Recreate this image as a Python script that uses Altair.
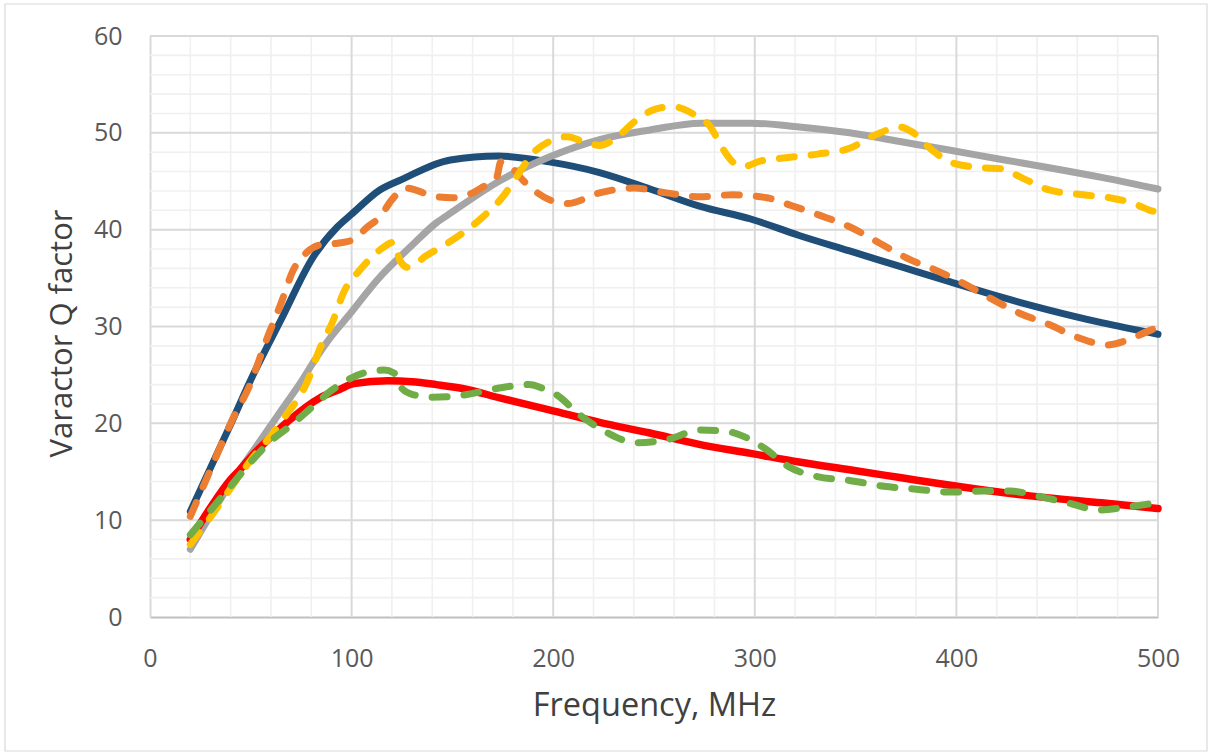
import altair as alt
import pandas as pd

# ---- data (Frequency MHz, Q factor) ----
blue_f = [20, 30, 40, 50, 65, 81, 93, 100, 114, 125, 149, 173, 198, 223, 248, 273, 298, 322, 347, 372, 397, 421, 446, 472, 500]
blue_q = [10.9, 15.4, 19.9, 24.5, 30.7, 37.2, 40.3, 41.6, 44.1, 45.2, 47.2, 47.6, 47.0, 45.9, 44.2, 42.4, 41.1, 39.4, 37.8, 36.2, 34.6, 33.1, 31.7, 30.4, 29.2]

orange_f = [20, 30, 40, 50, 57, 65, 71, 78, 84, 93, 100, 108, 114, 120, 127, 142, 150, 160, 165, 172, 174, 179, 185, 198, 207, 223, 240, 256, 273, 289, 306, 318, 332, 347, 362, 377, 390, 403, 417, 431, 446, 461, 475, 485, 496, 500]
orange_q = [10.4, 15.2, 20.0, 24.2, 28.2, 32.4, 35.8, 37.7, 38.4, 38.6, 38.9, 40.3, 41.3, 43.1, 44.3, 43.4, 43.3, 43.8, 44.4, 45.4, 47.0, 46.5, 45.1, 43.1, 42.7, 43.8, 44.3, 43.8, 43.4, 43.6, 43.3, 42.5, 41.5, 40.3, 38.6, 36.9, 35.8, 34.5, 32.9, 31.4, 30.2, 28.8, 28.1, 28.6, 29.6, 29.9]

gray_f = [20, 30, 40, 50, 60, 66, 75, 81, 90, 98, 114, 124, 131, 142, 149, 174, 198, 223, 248, 273, 298, 322, 347, 372, 397, 421, 446, 472, 500]
gray_q = [7.0, 10.5, 13.8, 16.8, 19.8, 21.6, 24.3, 26.3, 29.0, 31.0, 35.1, 37.2, 38.6, 40.7, 41.7, 45.1, 47.5, 49.3, 50.3, 51.0, 51.0, 50.6, 50.0, 49.1, 48.2, 47.3, 46.4, 45.4, 44.2]

yellow_f = [20, 30, 40, 50, 61, 68, 73, 78, 84, 91, 96, 104, 114, 121, 124, 128, 137, 152, 165, 175, 182, 190, 198, 207, 215, 223, 232, 240, 250, 259, 269, 278, 284, 289, 294, 303, 314, 331, 347, 360, 372, 378, 388, 398, 413, 422, 433, 446, 463, 476, 488, 496, 500]
yellow_q = [7.5, 10.3, 13.3, 16.2, 19.0, 21.0, 22.4, 24.3, 27.6, 30.7, 33.5, 35.8, 37.9, 38.7, 36.8, 36.1, 37.3, 39.2, 41.3, 43.4, 45.5, 47.9, 49.1, 49.6, 49.1, 48.7, 49.6, 51.1, 52.4, 52.7, 52.0, 50.6, 48.4, 47.0, 46.5, 47.1, 47.4, 47.8, 48.4, 49.8, 50.6, 50.1, 48.2, 46.9, 46.4, 46.3, 45.3, 44.1, 43.6, 43.3, 42.7, 42.0, 41.8]

red_f = [20, 30, 40, 45, 50, 60, 69, 84, 94, 101, 118, 130, 142, 155, 174, 198, 223, 248, 273, 298, 322, 347, 372, 397, 421, 446, 472, 500]
red_q = [8.0, 11.3, 14.2, 15.3, 16.5, 18.6, 20.3, 22.6, 23.5, 24.1, 24.4, 24.3, 24.0, 23.6, 22.6, 21.4, 20.1, 19.0, 17.8, 16.9, 16.0, 15.2, 14.4, 13.6, 12.9, 12.3, 11.8, 11.2]

green_f = [20, 30, 40, 50, 60, 70, 80, 90, 100, 108, 116, 121, 125, 130, 140, 155, 172, 188, 195, 202, 213, 227, 241, 256, 273, 285, 295, 305, 317, 331, 347, 364, 380, 397, 413, 427, 440, 455, 471, 486, 500]
green_q = [8.5, 11.0, 13.5, 16.0, 18.2, 19.8, 21.6, 23.4, 24.7, 25.3, 25.5, 25.2, 23.6, 23.0, 22.7, 22.9, 23.6, 24.0, 23.6, 22.9, 20.9, 19.0, 18.0, 18.3, 19.3, 19.2, 18.6, 17.4, 15.5, 14.5, 14.1, 13.5, 13.2, 12.9, 13.0, 13.0, 12.5, 11.8, 11.05, 11.4, 11.8]

x_ticks = [0, 100, 200, 300, 400, 500]
y_ticks = [0, 10, 20, 30, 40, 50, 60]
x_minor = [v for v in range(20, 500, 20) if v % 100 != 0]
y_minor = [v for v in range(2, 60, 2) if v % 10 != 0]
x_major = [100, 200, 300, 400, 500]
y_major = [10, 20, 30, 40, 50, 60]

FONT = "Open Sans"

X = alt.X("f:Q", scale=alt.Scale(domain=[0, 500], nice=False),
          axis=alt.Axis(values=x_ticks, grid=False, ticks=False, tickSize=0,
                        domainColor="#BFBFBF", domainWidth=2,
                        labelFont=FONT, labelFontSize=25, labelColor="#595959",
                        labelPadding=29, labelFlush=False, labelOverlap=False,
                        title="Frequency, MHz", titleFont=FONT, titleFontSize=32.5,
                        titleFontWeight="normal", titleColor="#404040",
                        titleX=504, titleY=88, titleAlign="center", titleBaseline="middle"))
Y = alt.Y("q:Q", scale=alt.Scale(domain=[0, 60], nice=False),
          axis=alt.Axis(values=y_ticks, grid=False, ticks=False, tickSize=0,
                        domainColor="#D9D9D9", domainWidth=2,
                        labelFont=FONT, labelFontSize=25, labelColor="#595959",
                        labelPadding=28, labelOverlap=False,
                        title="Varactor Q factor", titleFont=FONT, titleFontSize=31,
                        titleFontWeight="normal", titleColor="#404040",
                        titleX=-88, titleY=297, titleAngle=270,
                        titleAlign="center", titleBaseline="middle"))

layers = []

# outer chart border
border = alt.Chart(pd.DataFrame({"a": [0]})).mark_rect(
    fillOpacity=0, stroke="#D9D9D9", strokeWidth=1.2
).encode(x=alt.value(-145), x2=alt.value(1057), y=alt.value(-32), y2=alt.value(715))
layers.append(border)

# grid
layers.append(alt.Chart(pd.DataFrame({"f": x_minor})).mark_rule(color="#F0F0F0", strokeWidth=1.6).encode(x=X))
layers.append(alt.Chart(pd.DataFrame({"q": y_minor})).mark_rule(color="#F0F0F0", strokeWidth=1.6).encode(y=Y))
layers.append(alt.Chart(pd.DataFrame({"f": x_major})).mark_rule(color="#D9D9D9", strokeWidth=2).encode(x=X))
layers.append(alt.Chart(pd.DataFrame({"q": y_major})).mark_rule(color="#D9D9D9", strokeWidth=2).encode(y=Y))

series = [
    (blue_f, blue_q, "#1F4E79", False, 7),
    (gray_f, gray_q, "#A5A5A5", False, 7),
    (red_f, red_q, "#FF0000", False, 7.5),
    (orange_f, orange_q, "#ED7D31", True, 7),
    (yellow_f, yellow_q, "#FFC000", True, 7),
    (green_f, green_q, "#70AD47", True, 7),
]
for fs, qs, col, dashed, w in series:
    df = pd.DataFrame({"f": fs, "q": qs})
    if dashed:
        m = alt.Chart(df).mark_line(color=col, strokeWidth=w, strokeDash=[15, 17],
                                    strokeCap="round", strokeJoin="round", interpolate="monotone")
    else:
        m = alt.Chart(df).mark_line(color=col, strokeWidth=w, strokeCap="round",
                                    strokeJoin="round", interpolate="monotone")
    layers.append(m.encode(x=X, y=Y))

chart = alt.layer(*layers).properties(
    width=1008, height=581,
    padding={"left": 150, "top": 36, "right": 51, "bottom": 138},
    autosize=alt.AutoSizeParams(type="none"),
    background="white",
).configure_view(stroke="transparent")

chart.save("out.html", embed_options={"renderer": "svg", "actions": False})
